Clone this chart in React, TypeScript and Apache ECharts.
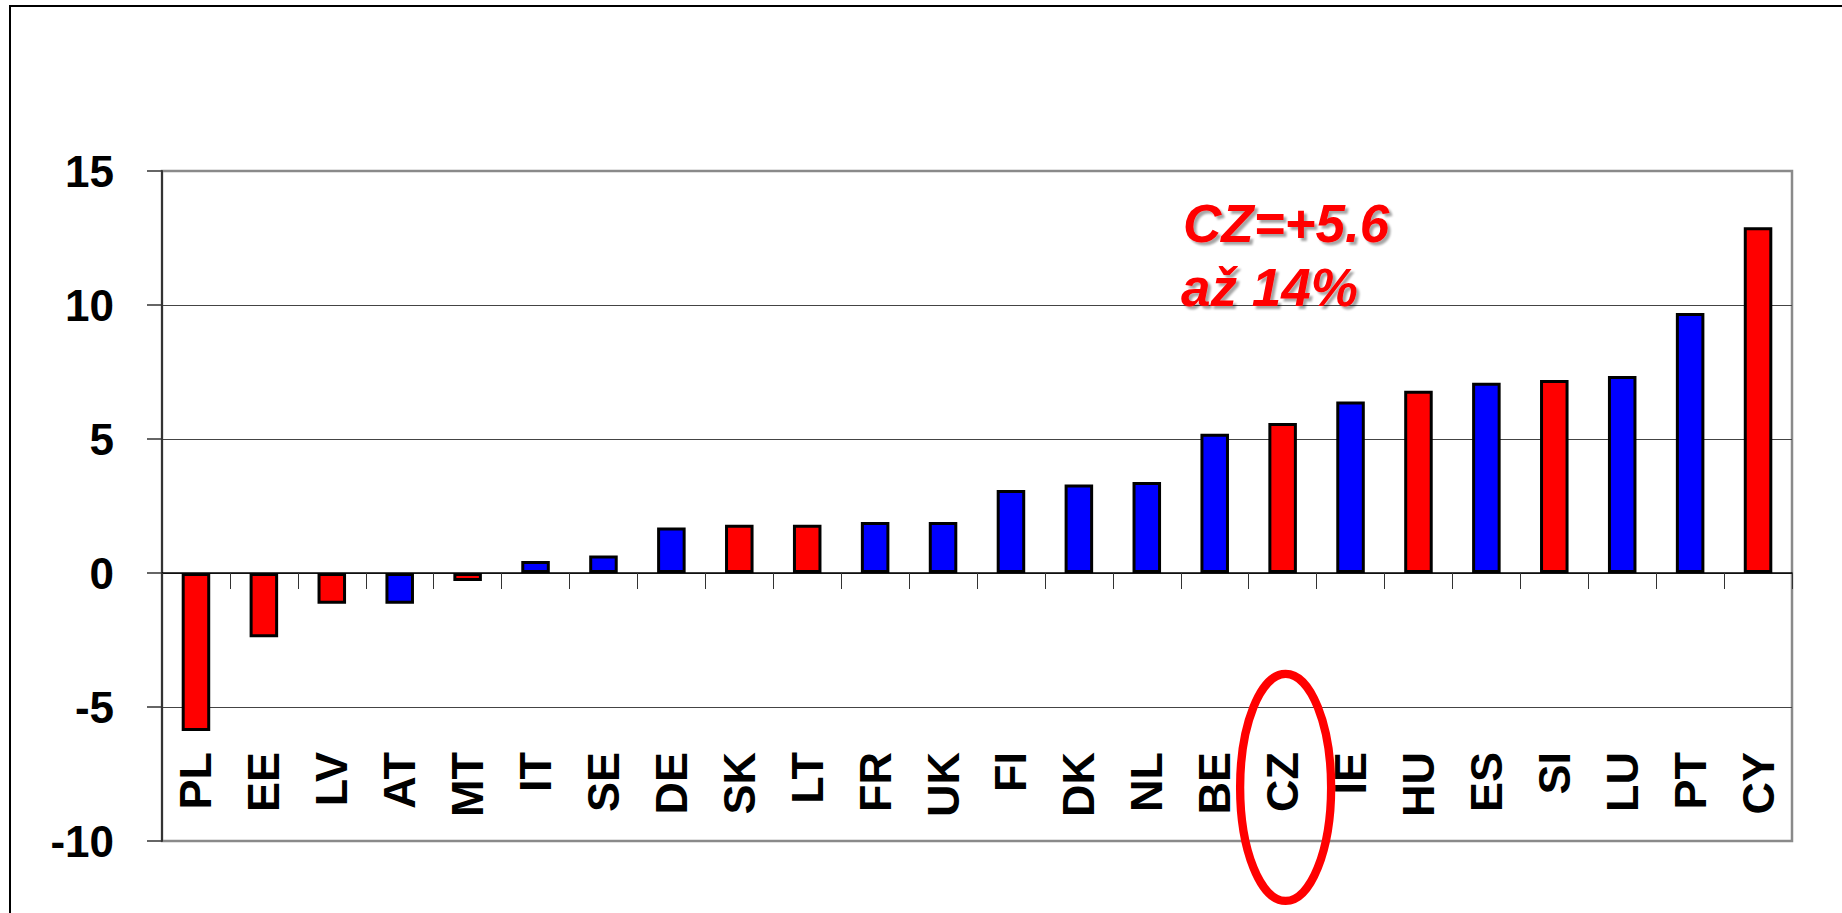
import React, { useEffect, useRef } from "react";
import * as echarts from "echarts";

const countries = ["PL", "EE", "LV", "AT", "MT", "IT", "SE", "DE", "SK", "LT", "FR", "UK", "FI", "DK", "NL", "BE", "CZ", "IE", "HU", "ES", "SI", "LU", "PT", "CY"];
const values = [-5.9, -2.4, -1.15, -1.15, -0.3, 0.45, 0.65, 1.7, 1.8, 1.8, 1.9, 1.9, 3.1, 3.3, 3.4, 5.2, 5.6, 6.4, 6.8, 7.1, 7.2, 7.35, 9.7, 12.9];
const groups = ["new", "new", "new", "old", "new", "old", "old", "old", "new", "new", "old", "old", "old", "old", "old", "old", "new", "old", "new", "old", "new", "old", "old", "new"];
const groupColors: Record<string, string> = { new: "#FF0000", old: "#0000FF" };
const yMin = -10;
const yMax = 15;
const yStep = 5;
const highlighted = "CZ";
const noteLines = ["CZ=+5.6", "až 14%"];

const FONT = '"Liberation Sans", Arial, Helvetica, sans-serif';

export default function App() {
  const ref = useRef<HTMLDivElement>(null);
  useEffect(() => {
    document.body.style.margin = "0";
    document.body.style.overflow = "hidden";
    const el = ref.current!;
    const chart = echarts.init(el, null, { renderer: "svg" });
    chart.setOption({
      animation: false,
      backgroundColor: "#ffffff",
      grid: {
        left: 162,
        right: 50,
        top: 171,
        bottom: 72,
        containLabel: false,
        outerBoundsMode: "none",
        show: true,
        borderColor: "#8a8a8a",
        borderWidth: 2.5,
        backgroundColor: "transparent",
      },
      xAxis: {
        type: "category",
        data: countries,
        axisLine: { show: true, onZero: true, lineStyle: { color: "#000", width: 1.5 } },
        axisTick: { show: true, length: 16, alignWithLabel: false, lineStyle: { color: "#333", width: 1 } },
        axisLabel: {
          rotate: 90,
          interval: 0,
          margin: -89,
          color: "#000",
          fontSize: 45,
          fontWeight: "bold",
          fontFamily: FONT,
        },
        splitLine: { show: false },
      },
      yAxis: {
        type: "value",
        min: yMin,
        max: yMax,
        interval: yStep,
        axisLine: { show: true, lineStyle: { color: "#333", width: 2 } },
        axisTick: { show: true, length: 15, lineStyle: { color: "#333", width: 1.5 } },
        axisLabel: {
          margin: 48,
          color: "#000",
          fontSize: 44,
          fontWeight: "bold",
          fontFamily: FONT,
        },
        splitLine: { show: true, showMinLine: false, showMaxLine: false, lineStyle: { color: "#444", width: 1 } },
      },
      series: [
        {
          type: "bar",
          barWidth: "42%",
          data: values.map((v, i) => ({ value: v, itemStyle: { color: groupColors[groups[i]] } })),
          itemStyle: { borderColor: "#000", borderWidth: 3 },
        },
      ],
    });

    const cx = chart.convertToPixel({ xAxisIndex: 0 }, highlighted) as number;
    const cy = chart.convertToPixel({ yAxisIndex: 0 }, -8) as number;

    chart.setOption({
      graphic: [
        {
          type: "rect",
          z: 0,
          silent: true,
          shape: { x: 10, y: 6, width: 1900, height: 1000 },
          style: { fill: "none", stroke: "#000", lineWidth: 2 },
        },
        {
          type: "ellipse",
          z: 100,
          silent: true,
          shape: { cx: cx + 3, cy, rx: 45.5, ry: 113.5 },
          style: { fill: "none", stroke: "#FF0000", lineWidth: 8.3 },
        },
        {
          type: "text",
          z: 100,
          silent: true,
          x: 1183,
          y: 223,
          style: {
            text: noteLines[0],
            fill: "#FF0000",
            font: `italic bold 53px ${FONT}`,
            align: "left",
            verticalAlign: "middle",
            textShadowColor: "rgba(0,0,0,0.35)",
            textShadowOffsetX: 3,
            textShadowOffsetY: 3,
            textShadowBlur: 2,
          },
        },
        {
          type: "text",
          z: 100,
          silent: true,
          x: 1181,
          y: 287,
          style: {
            text: noteLines[1],
            fill: "#FF0000",
            font: `italic bold 53px ${FONT}`,
            align: "left",
            verticalAlign: "middle",
            textShadowColor: "rgba(0,0,0,0.35)",
            textShadowOffsetX: 3,
            textShadowOffsetY: 3,
            textShadowBlur: 2,
          },
        },
      ],
    });

    return () => chart.dispose();
  }, []);
  return <div ref={ref} style={{ width: 1842, height: 913 }} />;
}
